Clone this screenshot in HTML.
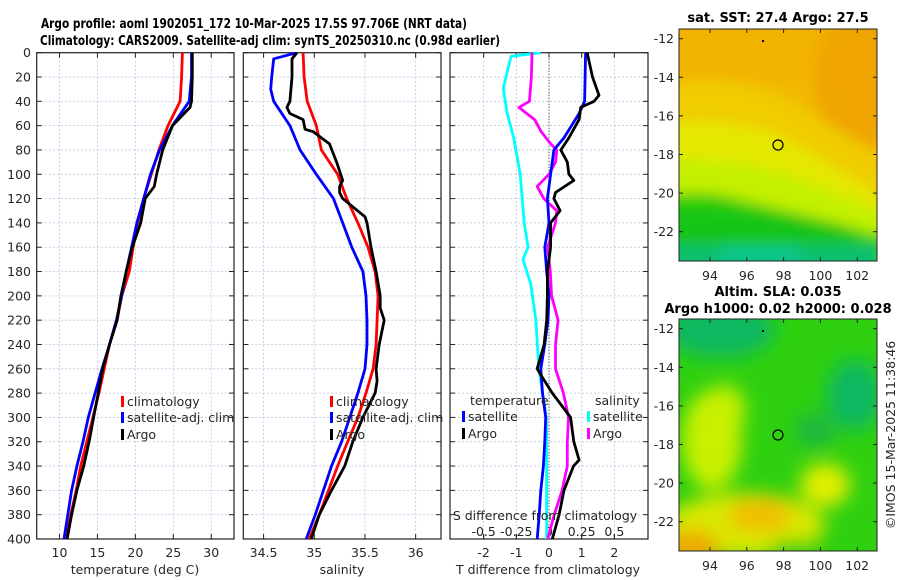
<!DOCTYPE html>
<html><head><meta charset="utf-8">
<style>
html,body{margin:0;padding:0;background:#fff;}
svg{display:block;font-family:"DejaVu Sans","Liberation Sans",sans-serif;}
.t{font-size:12.5px;fill:#262626;}
.b{font-size:13px;font-weight:bold;fill:#000;}
</style></head>
<body>
<svg id="fig" width="900" height="580" viewBox="0 0 900 580" xmlns="http://www.w3.org/2000/svg">
<defs>
<filter id="blur3" x="-20%" y="-20%" width="140%" height="140%"><feGaussianBlur stdDeviation="7"/></filter>
<filter id="blur2" x="-20%" y="-20%" width="140%" height="140%"><feGaussianBlur stdDeviation="9"/></filter>
<clipPath id="clipM1"><rect x="679" y="29" width="198" height="232"/></clipPath>
<clipPath id="clipM2"><rect x="679" y="319" width="198" height="232"/></clipPath>
<clipPath id="clipP1"><rect x="37" y="52" width="197" height="487"/></clipPath>
<clipPath id="clipP2"><rect x="243" y="52" width="198" height="487"/></clipPath>
<clipPath id="clipP3"><rect x="450" y="52" width="198" height="487"/></clipPath>
</defs>
<text class="b" x="41" y="28" textLength="426" lengthAdjust="spacingAndGlyphs">Argo profile: aoml 1902051_172 10-Mar-2025 17.5S 97.706E (NRT data)</text>
<text class="b" x="40" y="45" textLength="460" lengthAdjust="spacingAndGlyphs">Climatology: CARS2009. Satellite-adj clim: synTS_20250310.nc (0.98d earlier)</text>

<!-- SST map -->
<g clip-path="url(#clipM1)">
<rect x="679" y="29" width="198" height="232" fill="#f2b800"/>
<g filter="url(#blur3)">
<rect x="660" y="20" width="240" height="60" fill="#f2b200"/>
<ellipse cx="860" cy="80" rx="45" ry="70" fill="#efa400"/>
<path d="M660 85 Q720 70 780 95 Q830 125 890 160 L890 190 L660 190 Z" fill="#f0cc00"/>
<path d="M660 125 Q720 115 780 135 Q830 165 890 200 L890 240 L660 240 Z" fill="#e4e800"/>
<path d="M660 160 Q720 155 790 175 Q840 195 890 215 L890 270 L660 270 Z" fill="#c4f000"/>
<path d="M660 197 Q700 188 740 200 Q790 212 840 224 L890 238 L890 280 L660 280 Z" fill="#26cc10"/>
<path d="M660 210 L730 212 L800 218 L850 228 L860 245 L660 245 Z" fill="#18c418"/>
<rect x="660" y="245" width="220" height="30" fill="#10c070"/>
<rect x="720" y="247" width="80" height="20" fill="#0cc690"/>
</g>
<circle cx="778" cy="145" r="5" fill="none" stroke="#000" stroke-width="1.2"/>
<rect x="762" y="40" width="2" height="2" fill="#000"/>
</g>
<rect x="679" y="29" width="198" height="232" fill="none" stroke="#222" stroke-width="1"/>
<text class="b" x="778" y="22" text-anchor="middle">sat. SST: 27.4 Argo: 27.5</text>

<!-- SLA map -->
<g clip-path="url(#clipM2)">
<rect x="679" y="319" width="198" height="232" fill="#2fd010"/>
<g filter="url(#blur2)">
<ellipse cx="720" cy="330" rx="55" ry="28" fill="#10b860"/>
<ellipse cx="855" cy="395" rx="28" ry="35" fill="#10b860"/>
<ellipse cx="815" cy="430" rx="20" ry="18" fill="#1cb840"/>
<ellipse cx="712" cy="440" rx="30" ry="50" fill="#c8f000"/>
<ellipse cx="725" cy="410" rx="20" ry="25" fill="#c8f000"/>
<ellipse cx="825" cy="485" rx="25" ry="22" fill="#e0ee00"/>
<ellipse cx="745" cy="525" rx="80" ry="32" fill="#d8e800"/>
<ellipse cx="760" cy="515" rx="32" ry="18" fill="#f0c000"/>
<ellipse cx="690" cy="548" rx="30" ry="18" fill="#f0a800"/>
<ellipse cx="795" cy="548" rx="25" ry="8" fill="#30d010"/>
</g>
<circle cx="778" cy="435" r="5" fill="none" stroke="#000" stroke-width="1.2"/>
<rect x="762" y="330" width="2" height="2" fill="#000"/>
</g>
<rect x="679" y="319" width="198" height="232" fill="none" stroke="#222" stroke-width="1"/>
<text class="b" x="778" y="296" text-anchor="middle">Altim. SLA: 0.035</text>
<text class="b" x="778" y="313" text-anchor="middle">Argo h1000: 0.02 h2000: 0.028</text>
<text class="t" transform="translate(895,435) rotate(-90)" text-anchor="middle">©IMOS 15-Mar-2025 11:38:46</text>
<g id="plots"></g>
</svg>
<script>
// ---- data ----
const depthTicks = [0,20,40,60,80,100,120,140,160,180,200,220,240,260,280,300,320,340,360,380,400];
const tempTicks = [10,15,20,25,30];
const salTicks = [34.5,35,35.5,36];
const tdiffTicks = [-2,-1,0,1,2];
const sdiffTicks = [-0.5,-0.25,0,0.25,0.5];
const sdiffLabels = ["-0.5","-0.25","0","0.25","0.5"];
const lonTicks = [94,96,98,100,102];
const latTicks = [-12,-14,-16,-18,-20,-22];

const dStd = [0,20,40,60,80,100,120,140,160,180,200,220,240,260,280,300,320,340,360,380,400];
const tClim = [26.2,26.1,25.9,24.3,23.1,22.1,21.1,20.3,19.7,19.2,18.2,17.6,16.6,15.9,15.2,14.4,13.6,12.8,12.2,11.5,10.9];
const tSat = [27.4,27.4,27.1,24.9,23.2,22.0,21.1,20.2,19.5,18.8,18.2,17.5,16.6,15.6,14.7,13.8,13.1,12.3,11.6,11.1,10.6];
const dArgoT = [0,20,40,45,60,80,100,110,120,140,160,180,200,220,240,260,280,300,320,340,360,380,400];
const tArgo = [27.5,27.5,27.4,27.2,24.9,23.6,22.8,22.5,21.3,20.7,19.6,18.8,18.1,17.6,16.6,15.7,15.1,14.5,13.9,13.2,12.3,11.6,11.0];

const sClim = [34.89,34.90,34.93,35.02,35.07,35.23,35.32,35.43,35.53,35.60,35.63,35.62,35.61,35.58,35.51,35.43,35.33,35.23,35.14,35.05,34.95];
const dSatS = [0,5,20,30,40,60,80,100,120,140,160,180,200,220,240,260,280,300,320,340,360,380,400];
const sSat = [34.83,34.60,34.58,34.57,34.60,34.76,34.86,35.02,35.19,35.28,35.37,35.48,35.51,35.52,35.52,35.50,35.43,35.35,35.27,35.17,35.09,35.01,34.92];
const dArgoS = [0,5,20,40,45,50,55,63,65,75,90,105,110,115,120,135,140,160,180,200,210,220,240,260,270,280,300,320,340,360,380,400];
const sArgo = [34.83,34.78,34.78,34.76,34.73,34.76,34.89,34.91,34.99,35.15,35.22,35.28,35.25,35.25,35.28,35.50,35.52,35.56,35.61,35.65,35.65,35.69,35.64,35.61,35.62,35.60,35.48,35.38,35.30,35.17,35.05,34.97];

const dSatTd = [0,40,50,70,80,100,120,140,160,180,200,220,240,260,280,300,320,340,360,380,400];
const tdSat = [1.12,1.09,0.92,0.46,0.15,0.05,-0.05,0,-0.13,-0.07,0,-0.03,-0.13,-0.25,-0.2,-0.1,-0.13,-0.17,-0.25,-0.3,-0.36];
const dArgoTd = [0,20,35,40,45,55,70,80,90,100,105,115,120,130,140,160,180,200,220,240,260,265,280,300,320,335,340,360,380,400];
const tdArgo = [1.17,1.33,1.53,1.38,0.97,0.92,0.61,0.36,0.56,0.61,0.76,0.2,0.15,0.34,0.05,0.05,-0.05,-0.05,-0.07,-0.15,-0.36,-0.25,0.1,0.66,0.76,0.92,0.75,0.46,0.31,0.1];
const dSatSd = [0,3,20,30,50,70,100,140,160,170,190,220,260,280,300,320,400];
const sdSat = [-0.064,-0.29,-0.33,-0.35,-0.32,-0.27,-0.22,-0.19,-0.16,-0.2,-0.14,-0.1,-0.077,-0.05,-0.02,-0.018,-0.018];
const dArgoSd = [0,20,40,45,55,65,75,80,90,100,110,120,130,140,160,180,200,220,240,260,280,300,320,340,360,380,400];
const sdArgo = [-0.13,-0.135,-0.15,-0.23,-0.11,-0.06,0.013,0.06,0.05,0,-0.09,-0.04,0.06,0.05,-0.01,0.01,0.02,0.07,0.05,0.05,0.11,0.15,0.14,0.14,0.10,0.04,-0.01];

// ---- scales ----
const Y0 = 52.7, Y1 = 539;
const yD = d => Y0 + (Y1 - Y0) * d / 400;
const P1 = {x0:36.7, x1:234, v0:7, v1:33};
const P2 = {x0:243.3, x1:441, v0:34.3, v1:36.25};
const P3 = {x0:450, x1:648, v0:-3.03, v1:3.03};
const sx = (p, v) => p.x0 + (p.x1 - p.x0) * (v - p.v0) / (p.v1 - p.v0);
const sxS = v => sx(P3, v * 4);

const NS = "http://www.w3.org/2000/svg";
const root = document.getElementById('plots');
function mk(tag, attrs, parent) {
  const e = document.createElementNS(NS, tag);
  for (const k in attrs) e.setAttribute(k, attrs[k]);
  (parent || root).appendChild(e);
  return e;
}

function panel(p, name, xticks, xfun, xlabels) {
  const g = mk('g', {});
  
  
  depthTicks.forEach(d => {
    const y = yD(d);
    const gl = mk('line', {x1:p.x0, x2:p.x1, y1:y, y2:y, stroke:'#b8c4e0', 'stroke-width':0.8, 'stroke-dasharray':'2,2'}, g);
    
    
    mk('line', {x1:p.x0, x2:p.x0+5, y1:y, y2:y, stroke:'#222'}, g);
    mk('line', {x1:p.x1-5, x2:p.x1, y1:y, y2:y, stroke:'#222'}, g);
  });
  xticks.forEach((v, i) => {
    const x = xfun(v);
    const gl = mk('line', {x1:x, x2:x, y1:Y0, y2:Y1, stroke:'#b8c4e0', 'stroke-width':0.8, 'stroke-dasharray':'2,2'}, g);
    
    
    mk('line', {x1:x, x2:x, y1:Y1-5, y2:Y1, stroke:'#222'}, g);
    mk('line', {x1:x, x2:x, y1:Y0, y2:Y0+5, stroke:'#222'}, g);
    if (xlabels) {
      const t = mk('text', {x:x, y:557, 'text-anchor':'middle', class:'t'}, g);
      t.textContent = xlabels[i];
      
      
    }
  });
  mk('rect', {x:p.x0, y:Y0, width:p.x1-p.x0, height:Y1-Y0, fill:'none', stroke:'#222', 'stroke-width':1.2}, g);
  return g;
}

function line(depths, vals, xfun, color, name, clip) {
  const pts = depths.map((d, i) => xfun(vals[i]).toFixed(1) + ',' + yD(d).toFixed(1)).join(' ');
  const e = mk('polyline', {points:pts, fill:'none', stroke:color, 'stroke-width':2.8, 'stroke-linejoin':'round', 'clip-path':'url(#'+clip+')'});
  
  
}

function text(x, y, s, name, anchor) {
  const t = mk('text', {x:x, y:y, class:'t', 'text-anchor':anchor || 'start'});
  t.textContent = s;
  
  
  return t;
}

function legend(x, y, color, label, name) {
  const m = mk('rect', {x:x, y:y-10, width:3, height:11, fill:color});
  
  
  text(x + 6, y, label, name);
}

// panel 1 temperature
panel(P1, 'temperature-panel', tempTicks, v => sx(P1, v), tempTicks.map(String));
depthTicks.forEach(d => {
  text(31, yD(d) + 4.5, String(d), 'y-tick-label', 'end');
});
line(dStd, tClim, v => sx(P1, v), '#ff0000', 'temp-climatology-line', 'clipP1');
line(dStd, tSat, v => sx(P1, v), '#0000ff', 'temp-satellite-line', 'clipP1');
line(dArgoT, tArgo, v => sx(P1, v), '#000000', 'temp-argo-line', 'clipP1');
text(135, 574, 'temperature (deg C)', 'temperature-axis-title', 'middle');
legend(121, 406, '#ff0000', 'climatology', 'legend-climatology');
legend(121, 422, '#0000ff', 'satellite-adj. clim', 'legend-satellite-adj');
legend(121, 439, '#000000', 'Argo', 'legend-argo');

// panel 2 salinity
panel(P2, 'salinity-panel', salTicks, v => sx(P2, v), salTicks.map(String));
line(dStd, sClim, v => sx(P2, v), '#ff0000', 'sal-climatology-line', 'clipP2');
line(dSatS, sSat, v => sx(P2, v), '#0000ff', 'sal-satellite-line', 'clipP2');
line(dArgoS, sArgo, v => sx(P2, v), '#000000', 'sal-argo-line', 'clipP2');
text(342, 574, 'salinity', 'salinity-axis-title', 'middle');
legend(330, 406, '#ff0000', 'climatology', 'legend2-climatology');
legend(330, 422, '#0000ff', 'satellite-adj. clim', 'legend2-satellite-adj');
legend(330, 439, '#000000', 'Argo', 'legend2-argo');

// panel 3 differences
panel(P3, 'difference-panel', tdiffTicks, v => sx(P3, v), tdiffTicks.map(String));
sdiffTicks.forEach((v, i) => {
  const x = sxS(v);
  mk('line', {x1:x, x2:x, y1:Y1-5, y2:Y1, stroke:'#222'});
  text(x, 536, sdiffLabels[i], 'sdiff-tick-label', 'middle');
});
const zl = mk('line', {x1:sx(P3,0), x2:sx(P3,0), y1:Y0, y2:Y1, stroke:'#333', 'stroke-width':1, 'stroke-dasharray':'1,2'});


line(dSatSd, sdSat, sxS, '#00ffff', 'sdiff-satellite-line', 'clipP3');
line(dArgoSd, sdArgo, sxS, '#ff00ff', 'sdiff-argo-line', 'clipP3');
line(dSatTd, tdSat, v => sx(P3, v), '#0000ff', 'tdiff-satellite-line', 'clipP3');
line(dArgoTd, tdArgo, v => sx(P3, v), '#000000', 'tdiff-argo-line', 'clipP3');
text(545, 520, 'S difference from climatology', 'sdiff-axis-title', 'middle');
text(548, 574, 'T difference from climatology', 'tdiff-axis-title', 'middle');
text(470, 405, 'temperature', 'legend3-temp-header');
legend(462, 421, '#0000ff', 'satellite', 'legend3-temp-satellite');
legend(462, 438, '#000000', 'Argo', 'legend3-temp-argo');
text(595, 405, 'salinity', 'legend3-sal-header');
legend(587, 421, '#00ffff', 'satellite', 'legend3-sal-satellite');
legend(587, 438, '#ff00ff', 'Argo', 'legend3-sal-argo');

// map axes
const lonX = lon => 710 + (lon - 94) * 18.4;
function mapAxes(top, name) {
  const latY = lat => top + 9.7 + (-12 - lat) * 19.3;
  lonTicks.forEach(l => {
    const x = lonX(l);
    mk('line', {x1:x, x2:x, y1:top+232-4, y2:top+232, stroke:'#222'});
    mk('line', {x1:x, x2:x, y1:top, y2:top+4, stroke:'#222'});
    text(x, top + 251, String(l), name + '-lon-label', 'middle');
  });
  latTicks.forEach(l => {
    const y = latY(l);
    mk('line', {x1:679, x2:683, y1:y, y2:y, stroke:'#222'});
    mk('line', {x1:873, x2:877, y1:y, y2:y, stroke:'#222'});
    text(674, y + 4.5, String(l), name + '-lat-label', 'end');
  });
}
mapAxes(29, 'sst-map');
mapAxes(319, 'sla-map');
</script>
</body></html>
